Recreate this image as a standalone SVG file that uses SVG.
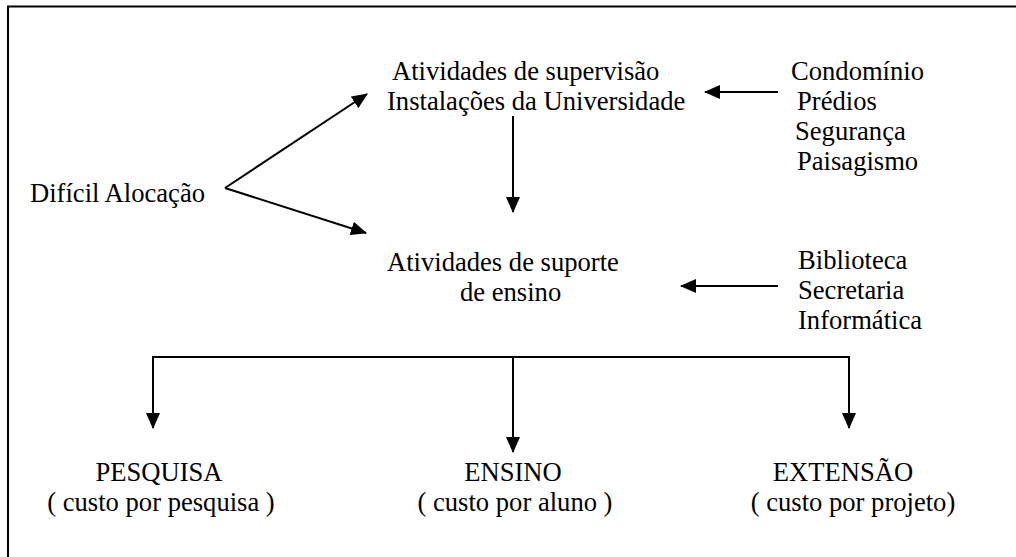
<svg xmlns="http://www.w3.org/2000/svg" width="1016" height="557" viewBox="0 0 1016 557">
  <style>
    .t { font-family: 'Liberation Serif', 'Times New Roman', 'DejaVu Serif', serif; font-size: 26.6px; fill: #000; }
    .c { text-anchor: middle; }
    .ln { stroke: #000; stroke-width: 2; fill: none; }
  </style>
  <defs>
    <marker id="ah" markerUnits="userSpaceOnUse" markerWidth="16" markerHeight="14" refX="15" refY="7" orient="auto">
      <path d="M0,0 L16,7 L0,14 Z" fill="#000"/>
    </marker>
  </defs>
  <rect x="0" y="0" width="1016" height="557" fill="#fff"/>
  <rect x="8" y="6.5" width="1030" height="580" fill="none" stroke="#000" stroke-width="2"/>

  <g id="connectors">
    <line class="ln" x1="225" y1="188" x2="367" y2="94" marker-end="url(#ah)"/>
    <line class="ln" x1="225" y1="188" x2="366" y2="233" marker-end="url(#ah)"/>
    <line class="ln" x1="778" y1="92" x2="705" y2="92" marker-end="url(#ah)"/>
    <line class="ln" x1="513" y1="116" x2="513" y2="212" marker-end="url(#ah)"/>
    <line class="ln" x1="778" y1="286" x2="681" y2="286" marker-end="url(#ah)"/>
    <line class="ln" x1="152" y1="357" x2="850" y2="357"/>
    <line class="ln" x1="153" y1="356" x2="153" y2="428" marker-end="url(#ah)"/>
    <line class="ln" x1="513" y1="356" x2="513" y2="452" marker-end="url(#ah)"/>
    <line class="ln" x1="849" y1="356" x2="849" y2="428" marker-end="url(#ah)"/>
  </g>

  <g class="t">
  <g id="dificil">
    <text x="30" y="202">Difícil Alocação</text>
  </g>
  <g id="supervisao">
    <text x="392" y="80">Atividades de supervisão</text>
    <text x="387" y="110">Instalações da Universidade</text>
  </g>
  <g id="condominio">
    <text x="791" y="80">Condomínio</text>
    <text x="797" y="110">Prédios</text>
    <text x="795" y="140">Segurança</text>
    <text x="797" y="170">Paisagismo</text>
  </g>
  <g id="suporte">
    <text x="387" y="271">Atividades de suporte</text>
    <text x="460" y="301">de ensino</text>
  </g>
  <g id="biblioteca">
    <text x="798" y="269">Biblioteca</text>
    <text x="798" y="299">Secretaria</text>
    <text x="798" y="329">Informática</text>
  </g>
  <g id="pesquisa">
    <text class="c" x="159" y="481">PESQUISA</text>
    <text class="c" x="161" y="511">( custo por pesquisa )</text>
  </g>
  <g id="ensino">
    <text class="c" x="513" y="481">ENSINO</text>
    <text class="c" x="515" y="511">( custo por aluno )</text>
  </g>
  <g id="extensao">
    <text class="c" x="843" y="481">EXTENSÃO</text>
    <text class="c" x="853" y="511">( custo por projeto)</text>
  </g>
  </g>
</svg>
